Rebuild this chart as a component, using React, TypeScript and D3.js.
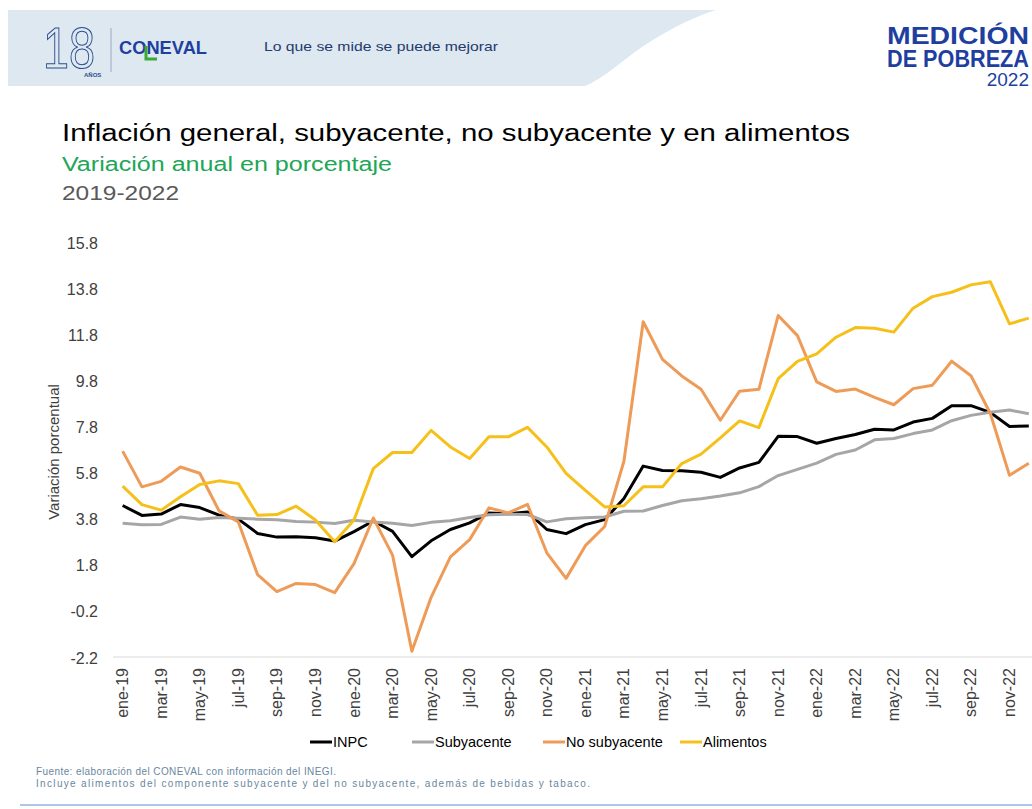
import React from "react";
import * as d3 from "d3";

const months = ["ene", "feb", "mar", "abr", "may", "jun", "jul", "ago", "sep", "oct", "nov", "dic"];
const years = ["19", "20", "21", "22"];
const categories: string[] = years.flatMap((y) => months.map((m) => `${m}-${y}`));

const inpc = [
  4.37, 3.94, 4.0, 4.41, 4.28, 3.95, 3.78, 3.16, 3.0, 3.02, 2.97, 2.83,
  3.24, 3.7, 3.25, 2.15, 2.84, 3.33, 3.62, 4.05, 4.01, 4.09, 3.33, 3.15,
  3.54, 3.76, 4.67, 6.08, 5.89, 5.88, 5.81, 5.59, 6.0, 6.24, 7.37, 7.36,
  7.07, 7.28, 7.45, 7.68, 7.65, 7.99, 8.15, 8.7, 8.7, 8.41, 7.8, 7.82,
];
const subyacente = [
  3.6, 3.54, 3.55, 3.87, 3.77, 3.85, 3.82, 3.78, 3.75, 3.68, 3.65, 3.59,
  3.73, 3.66, 3.6, 3.5, 3.64, 3.71, 3.85, 3.97, 3.99, 3.98, 3.66, 3.8,
  3.84, 3.87, 4.12, 4.13, 4.37, 4.58, 4.66, 4.78, 4.92, 5.19, 5.67, 5.94,
  6.21, 6.59, 6.78, 7.22, 7.28, 7.49, 7.65, 8.05, 8.28, 8.42, 8.51, 8.35,
];
const noSubyacente = [
  6.73, 5.18, 5.42, 6.04, 5.77, 4.14, 3.66, 1.37, 0.64, 0.99, 0.94, 0.59,
  1.85, 3.83, 2.22, -1.95, 0.39, 2.14, 2.89, 4.27, 4.05, 4.42, 2.32, 1.21,
  2.63, 3.46, 6.29, 12.34, 10.71, 9.99, 9.41, 8.07, 9.33, 9.41, 12.61, 11.74,
  9.73, 9.32, 9.42, 9.06, 8.74, 9.44, 9.59, 10.63, 10.0, 8.37, 5.68, 6.2,
];
const alimentos = [
  5.21, 4.41, 4.17, 4.75, 5.28, 5.44, 5.32, 3.95, 3.98, 4.34, 3.74, 2.8,
  3.74, 5.97, 6.67, 6.67, 7.63, 6.91, 6.41, 7.35, 7.35, 7.76, 6.91, 5.76,
  5.03, 4.31, 4.36, 5.18, 5.18, 6.19, 6.6, 7.3, 8.04, 7.75, 9.87, 10.62,
  10.95, 11.67, 12.09, 12.06, 11.89, 12.93, 13.43, 13.62, 13.94, 14.08, 12.25, 12.5,
];

const yTicks = [-2.2, -0.2, 1.8, 3.8, 5.8, 7.8, 9.8, 11.8, 13.8, 15.8];

const seriesNames = ["INPC", "Subyacente", "No subyacente", "Alimentos"];
const seriesData = [inpc, subyacente, noSubyacente, alimentos];
const seriesColors = ["#000000", "#a6a6a6", "#ef9b58", "#f6c01a"];

const FONT = "'Liberation Sans', Arial, sans-serif";

export default function App() {
  const x = d3
    .scaleBand<string>()
    .domain(categories)
    .range([113, 113 + 48 * 19.28])
    .padding(0);
  const y = d3.scaleLinear().domain([-2.2, 15.8]).range([657, 242]);
  const cx = (c: string) => (x(c) as number) + x.bandwidth() / 2;

  const line = d3
    .line<number>()
    .x((_, i) => cx(categories[i]))
    .y((v) => y(v));

  const legendItems = [
    { lx: 310, tx: 333 },
    { lx: 412, tx: 435 },
    { lx: 543, tx: 566 },
    { lx: 680, tx: 703 },
  ];

  return (
    <svg
      width={1032}
      height={809}
      style={{ position: "absolute", left: 0, top: 0, background: "#fff" }}
      fontFamily={FONT}
    >
      <rect x={0} y={0} width={1032} height={809} fill="#ffffff" />
      {/* header band */}
      <path
        d="M8,10 L716,10 C690,18 660,34 635,52 C615,67 600,80 585,86 L8,86 Z"
        fill="#dde8f1"
      />
      <text
        x={43}
        y={68}
        fontSize={58}
        fill="none"
        stroke="#2d4e8e"
        strokeWidth={1.1}
        textLength={52}
        lengthAdjust="spacingAndGlyphs"
      >
        18
      </text>
      <text x={84} y={77} fontSize={6} fontWeight={700} fill="#2d4e8e">
        AÑOS
      </text>
      <line x1={111} y1={28} x2={111} y2={72} stroke="#9aaac8" strokeWidth={1} />
      <text
        x={119}
        y={54}
        fontSize={19}
        fontWeight={900}
        fill="#1f3f9f"
        textLength={88}
        lengthAdjust="spacingAndGlyphs"
      >
        CONEVAL
      </text>
      <path d="M146,46 L146,59 L157,59" fill="none" stroke="#3aa935" strokeWidth={3} />
      <text
        x={264}
        y={51}
        fontSize={13}
        fill="#243a6b"
        textLength={234}
        lengthAdjust="spacingAndGlyphs"
      >
        Lo que se mide se puede mejorar
      </text>

      <text
        x={887}
        y={44}
        fontSize={24}
        fontWeight={700}
        fill="#1f3f9f"
        textLength={142}
        lengthAdjust="spacingAndGlyphs"
      >
        MEDICIÓN
      </text>
      <text
        x={887}
        y={67}
        fontSize={24}
        fontWeight={700}
        fill="#1f3f9f"
        textLength={142}
        lengthAdjust="spacingAndGlyphs"
      >
        DE POBREZA
      </text>
      <text x={1029} y={86} fontSize={19} fill="#1f3f9f" textAnchor="end">
        2022
      </text>

      {/* titles */}
      <text
        x={62}
        y={141}
        fontSize={23}
        fill="#000"
        textLength={788}
        lengthAdjust="spacingAndGlyphs"
      >
        Inflación general, subyacente, no subyacente y en alimentos
      </text>
      <text
        x={62}
        y={171}
        fontSize={20}
        fill="#20a657"
        textLength={330}
        lengthAdjust="spacingAndGlyphs"
      >
        Variación anual en porcentaje
      </text>
      <text
        x={62}
        y={200}
        fontSize={20}
        fill="#595959"
        textLength={117}
        lengthAdjust="spacingAndGlyphs"
      >
        2019-2022
      </text>

      {/* y axis */}
      {yTicks.map((t) => (
        <text
          key={t}
          x={98}
          y={y(t) + 1}
          fontSize={16}
          fill="#404040"
          textAnchor="end"
          dominantBaseline="central"
        >
          {t.toFixed(1)}
        </text>
      ))}
      <text
        transform="translate(53,452) rotate(-90)"
        fontSize={15}
        fill="#404040"
        textAnchor="middle"
        dominantBaseline="central"
      >
        Variación porcentual
      </text>

      {/* x axis */}
      <line x1={113} x2={1040} y1={y(-2.2)} y2={y(-2.2)} stroke="#d9d9d9" strokeWidth={1} />
      {categories.map((c, i) =>
        i % 2 === 0 ? (
          <text
            key={c}
            transform={`translate(${cx(c)},668) rotate(-90)`}
            fontSize={16}
            fill="#404040"
            textAnchor="end"
            dominantBaseline="central"
          >
            {c}
          </text>
        ) : null
      )}

      {/* lines */}
      {seriesData.map((s, k) => (
        <path
          key={seriesNames[k]}
          d={line(s) || ""}
          fill="none"
          stroke={seriesColors[k]}
          strokeWidth={3}
          strokeLinejoin="round"
        />
      ))}

      {/* legend */}
      {legendItems.map((it, k) => (
        <g key={seriesNames[k]}>
          <line
            x1={it.lx}
            x2={it.lx + 22}
            y1={742}
            y2={742}
            stroke={seriesColors[k]}
            strokeWidth={3}
          />
          <text x={it.tx} y={742} fontSize={14.5} fill="#000" dominantBaseline="central">
            {seriesNames[k]}
          </text>
        </g>
      ))}

      {/* footnotes */}
      <text x={36} y={775} fontSize={10} fill="#6a87a0" textLength={300} lengthAdjust="spacing">
        Fuente: elaboración del CONEVAL con información del INEGI.
      </text>
      <text x={36} y={787} fontSize={10} fill="#6a87a0" textLength={554} lengthAdjust="spacing">
        Incluye alimentos del componente subyacente y del no subyacente, además de bebidas y tabaco.
      </text>
      <line x1={20} x2={1032} y1={805} y2={805} stroke="#93b4de" strokeWidth={1.5} />
    </svg>
  );
}
